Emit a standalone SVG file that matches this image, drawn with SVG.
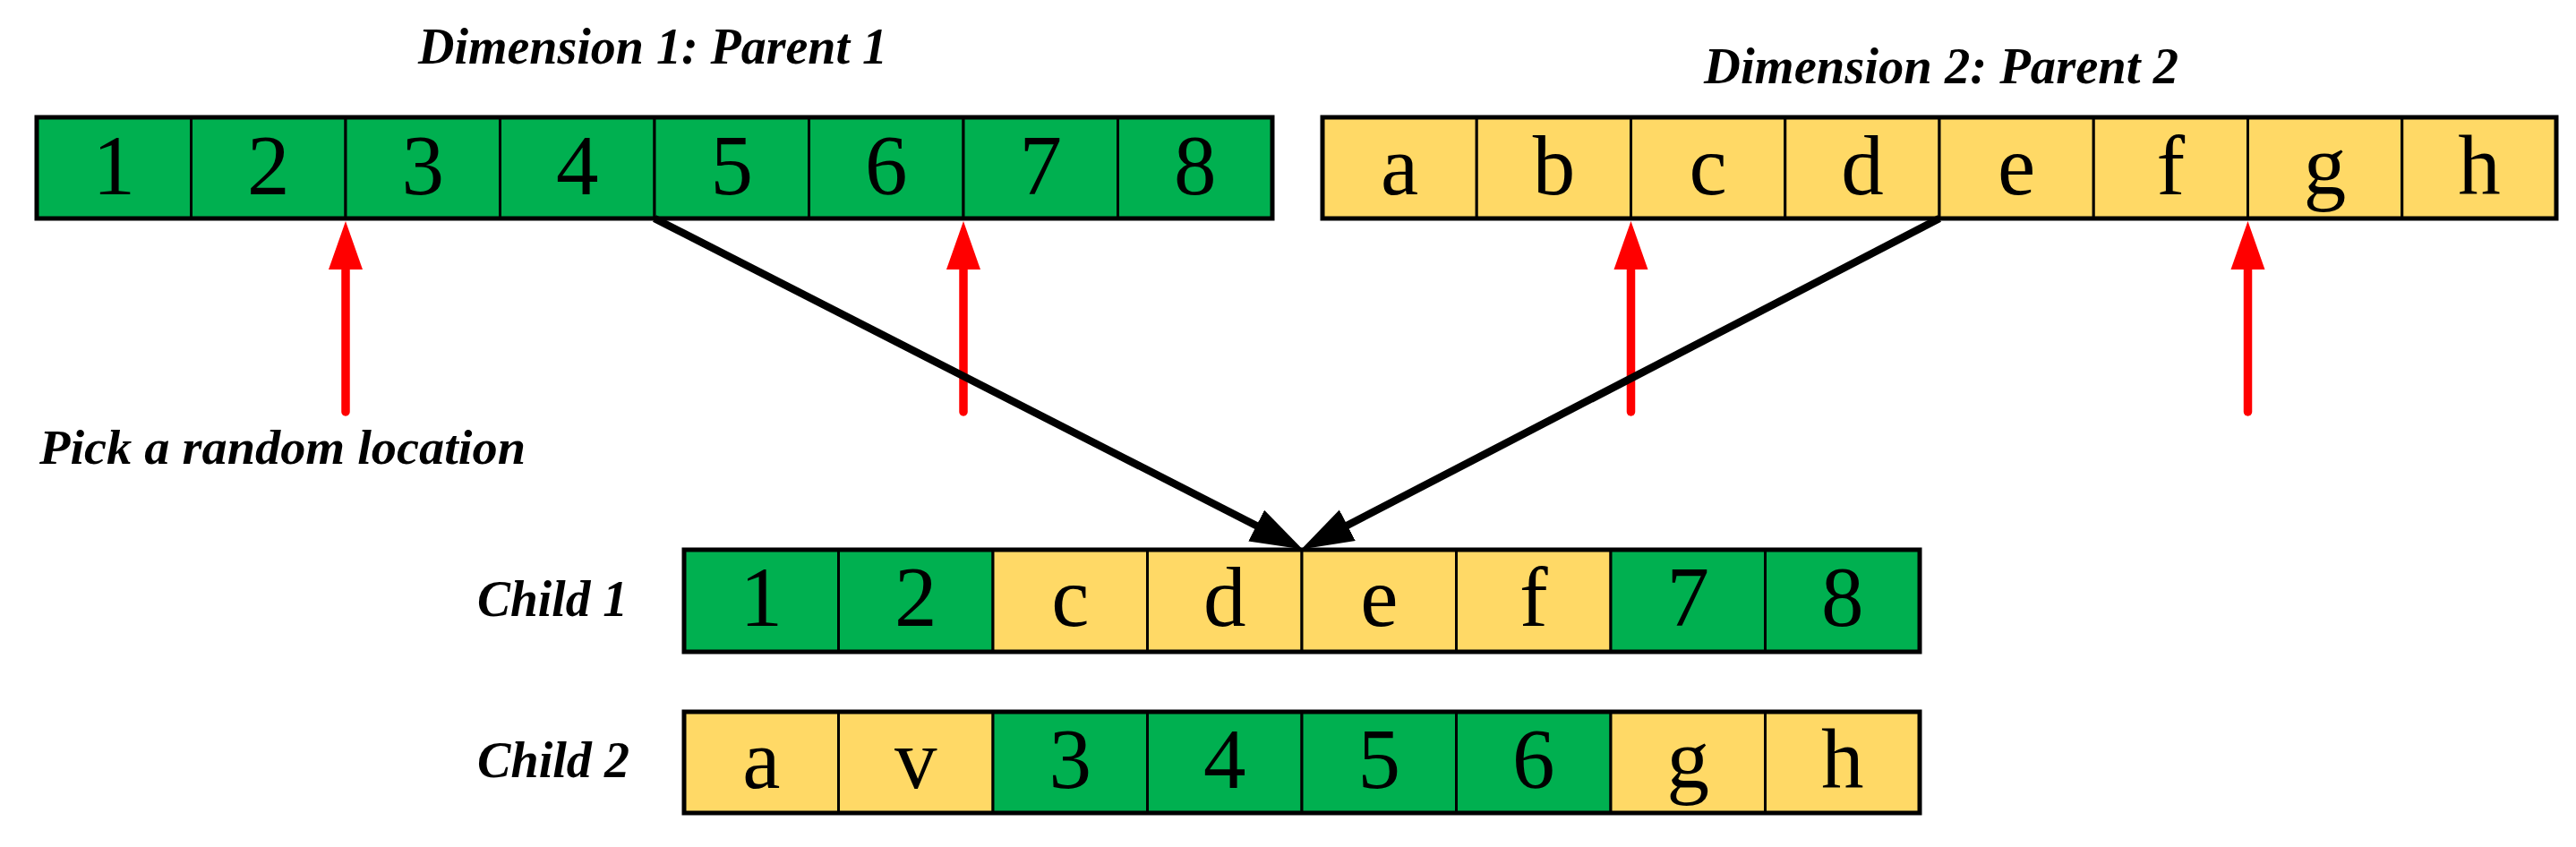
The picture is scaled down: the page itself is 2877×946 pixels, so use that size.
<svg xmlns="http://www.w3.org/2000/svg" width="2877" height="946" viewBox="0 0 2877 946">
<style>
.g{fill:#00B050;stroke:#000;stroke-width:3}
.y{fill:#FFD966;stroke:#000;stroke-width:3}
.frame{fill:none;stroke:#000;stroke-width:5}
.cell{font-family:"Liberation Serif","Times New Roman",serif;font-size:95px;text-anchor:middle;fill:#000}
.lbl{font-family:"Liberation Serif","Times New Roman",serif;font-weight:bold;font-style:italic;fill:#000}
.red{stroke:#FF0000;stroke-width:9.5;fill:none}
.blk{stroke:#000;stroke-width:8.5;fill:none}
</style>
<defs>
<marker id="bh" markerUnits="userSpaceOnUse" markerWidth="64" markerHeight="42" refX="30" refY="19.5" orient="auto">
<path d="M0,0 L58,19.5 L0,39 z" fill="#000"/>
</marker>
</defs>
<rect width="2877" height="946" fill="#fff"/>

<g id="title1"><text class="lbl" x="467" y="71" font-size="57" textLength="524" lengthAdjust="spacingAndGlyphs">Dimension 1: Parent 1</text></g>
<g id="title2"><text class="lbl" x="1903" y="93" font-size="57" textLength="530" lengthAdjust="spacingAndGlyphs">Dimension 2: Parent 2</text></g>

<g id="parent1">
<rect class="g" x="41" y="131" width="172.5" height="113"/>
<rect class="g" x="213.5" y="131" width="172.5" height="113"/>
<rect class="g" x="386" y="131" width="172.5" height="113"/>
<rect class="g" x="558.5" y="131" width="172.5" height="113"/>
<rect class="g" x="731" y="131" width="172.5" height="113"/>
<rect class="g" x="903.5" y="131" width="172.5" height="113"/>
<rect class="g" x="1076" y="131" width="172.5" height="113"/>
<rect class="g" x="1248.5" y="131" width="172.5" height="113"/>
<rect class="frame" x="41" y="131" width="1380" height="113"/>
<text class="cell" x="127.25" y="217">1</text>
<text class="cell" x="299.75" y="217">2</text>
<text class="cell" x="472.25" y="217">3</text>
<text class="cell" x="644.75" y="217">4</text>
<text class="cell" x="817.25" y="217">5</text>
<text class="cell" x="989.75" y="217">6</text>
<text class="cell" x="1162.25" y="217">7</text>
<text class="cell" x="1334.75" y="217">8</text>
</g>

<g id="parent2">
<rect class="y" x="1477" y="131" width="172.25" height="113"/>
<rect class="y" x="1649.25" y="131" width="172.25" height="113"/>
<rect class="y" x="1821.5" y="131" width="172.25" height="113"/>
<rect class="y" x="1993.75" y="131" width="172.25" height="113"/>
<rect class="y" x="2166" y="131" width="172.25" height="113"/>
<rect class="y" x="2338.25" y="131" width="172.25" height="113"/>
<rect class="y" x="2510.5" y="131" width="172.25" height="113"/>
<rect class="y" x="2682.75" y="131" width="172.25" height="113"/>
<rect class="frame" x="1477" y="131" width="1378" height="113"/>
<text class="cell" x="1563.1" y="217">a</text>
<text class="cell" x="1735.4" y="217">b</text>
<text class="cell" x="1907.6" y="217">c</text>
<text class="cell" x="2079.9" y="217">d</text>
<text class="cell" x="2252.1" y="217">e</text>
<text class="cell" x="2424.4" y="217">f</text>
<text class="cell" x="2596.6" y="217">g</text>
<text class="cell" x="2768.9" y="217">h</text>
</g>

<g id="pick-label"><text class="lbl" x="44" y="518" font-size="55" textLength="543" lengthAdjust="spacingAndGlyphs">Pick a random location</text></g>

<g id="child1-label"><text class="lbl" x="533" y="688" font-size="57" textLength="168" lengthAdjust="spacingAndGlyphs">Child 1</text></g>
<g id="child2-label"><text class="lbl" x="533" y="868" font-size="57" textLength="170" lengthAdjust="spacingAndGlyphs">Child 2</text></g>

<g id="child1">
<rect class="g" x="764" y="614" width="172.5" height="114"/>
<rect class="g" x="936.5" y="614" width="172.5" height="114"/>
<rect class="y" x="1109" y="614" width="172.5" height="114"/>
<rect class="y" x="1281.5" y="614" width="172.5" height="114"/>
<rect class="y" x="1454" y="614" width="172.5" height="114"/>
<rect class="y" x="1626.5" y="614" width="172.5" height="114"/>
<rect class="g" x="1799" y="614" width="172.5" height="114"/>
<rect class="g" x="1971.5" y="614" width="172.5" height="114"/>
<rect class="frame" x="764" y="614" width="1380" height="114"/>
<text class="cell" x="850.25" y="699">1</text>
<text class="cell" x="1022.75" y="699">2</text>
<text class="cell" x="1195.25" y="699">c</text>
<text class="cell" x="1367.75" y="699">d</text>
<text class="cell" x="1540.25" y="699">e</text>
<text class="cell" x="1712.75" y="699">f</text>
<text class="cell" x="1885.25" y="699">7</text>
<text class="cell" x="2057.75" y="699">8</text>
</g>

<g id="child2">
<rect class="y" x="764" y="795" width="172.5" height="113"/>
<rect class="y" x="936.5" y="795" width="172.5" height="113"/>
<rect class="g" x="1109" y="795" width="172.5" height="113"/>
<rect class="g" x="1281.5" y="795" width="172.5" height="113"/>
<rect class="g" x="1454" y="795" width="172.5" height="113"/>
<rect class="g" x="1626.5" y="795" width="172.5" height="113"/>
<rect class="y" x="1799" y="795" width="172.5" height="113"/>
<rect class="y" x="1971.5" y="795" width="172.5" height="113"/>
<rect class="frame" x="764" y="795" width="1380" height="113"/>
<text class="cell" x="850.25" y="880">a</text>
<text class="cell" x="1022.75" y="880">v</text>
<text class="cell" x="1195.25" y="880">3</text>
<text class="cell" x="1367.75" y="880">4</text>
<text class="cell" x="1540.25" y="880">5</text>
<text class="cell" x="1712.75" y="880">6</text>
<text class="cell" x="1885.25" y="880">g</text>
<text class="cell" x="2057.75" y="880">h</text>
</g>

<g id="connectors">
<line class="red" x1="386" y1="460" x2="386" y2="298" stroke-linecap="round"/>
<polygon points="386,247 405,301 367,301" fill="#FF0000"/>
<line class="red" x1="1076" y1="460" x2="1076" y2="298" stroke-linecap="round"/>
<polygon points="1076,247 1095,301 1057,301" fill="#FF0000"/>
<line class="red" x1="1821.5" y1="460" x2="1821.5" y2="298" stroke-linecap="round"/>
<polygon points="1821.5,247 1840.5,301 1802.5,301" fill="#FF0000"/>
<line class="red" x1="2510.5" y1="460" x2="2510.5" y2="298" stroke-linecap="round"/>
<polygon points="2510.5,247 2529.5,301 2491.5,301" fill="#FF0000"/>
<line class="blk" x1="731" y1="244" x2="1429.9" y2="600.7" marker-end="url(#bh)"/>
<line class="blk" x1="2166" y1="244" x2="1478.2" y2="600.5" marker-end="url(#bh)"/>
</g>
</svg>
